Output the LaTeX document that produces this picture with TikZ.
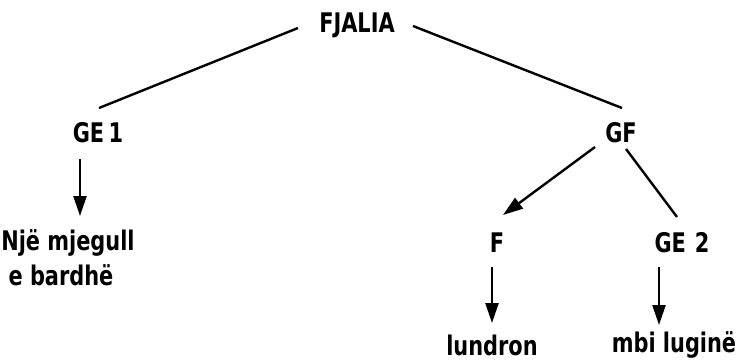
\documentclass[tikz,border=0pt]{standalone}
\usepackage{fontspec}
\setmainfont{DejaVu Sans Condensed}[FakeStretch=0.86]
\usetikzlibrary{arrows.meta}
\begin{document}
\begin{tikzpicture}[x=1pt,y=-1pt,
  lbl/.style={inner sep=0pt, font=\fontsize{27}{29}\selectfont\bfseries},
  ln/.style={line width=2.4pt},
  arr/.style={line width=2.4pt,-{Triangle[length=20pt,width=13pt]}}]
\useasboundingbox (0,0) rectangle (739,362);
\node[lbl] (fj) at (357,25) {FJALIA};
\node[lbl] (ge1) at (98,133) {GE\,1};
\node[lbl] (gf) at (621,133) {GF};
\node[lbl] (nje) at (68,243) {Një mjegull};
\node[lbl] (bar) at (61,275) {e bardhë};
\node[lbl] (f) at (497,243) {F};
\node[lbl] (ge2) at (682,243) {GE\,\,2};
\node[lbl] (lun) at (492,345) {lundron};
\node[lbl] (mbi) at (674,345) {mbi luginë};
\coordinate (l1a) at (298,28); \coordinate (l1b) at (99,108);
\coordinate (l2a) at (413,26); \coordinate (l2b) at (622,108);
\draw[ln] (l1a) -- (l1b);
\draw[ln] (l2a) -- (l2b);
\coordinate (a1a) at (80,159); \coordinate (a1b) at (80,216);
\draw[arr] (a1a) -- (a1b);
\coordinate (a2a) at (595,147); \coordinate (a2b) at (503,215);
\draw[arr] (a2a) -- (a2b);
\coordinate (l3a) at (626,149); \coordinate (l3b) at (677,217);
\draw[ln] (l3a) -- (l3b);
\coordinate (a3a) at (492,267); \coordinate (a3b) at (492,323);
\draw[arr] (a3a) -- (a3b);
\coordinate (a4a) at (659,267); \coordinate (a4b) at (659,325);
\draw[arr] (a4a) -- (a4b);
\end{tikzpicture}
\end{document}
